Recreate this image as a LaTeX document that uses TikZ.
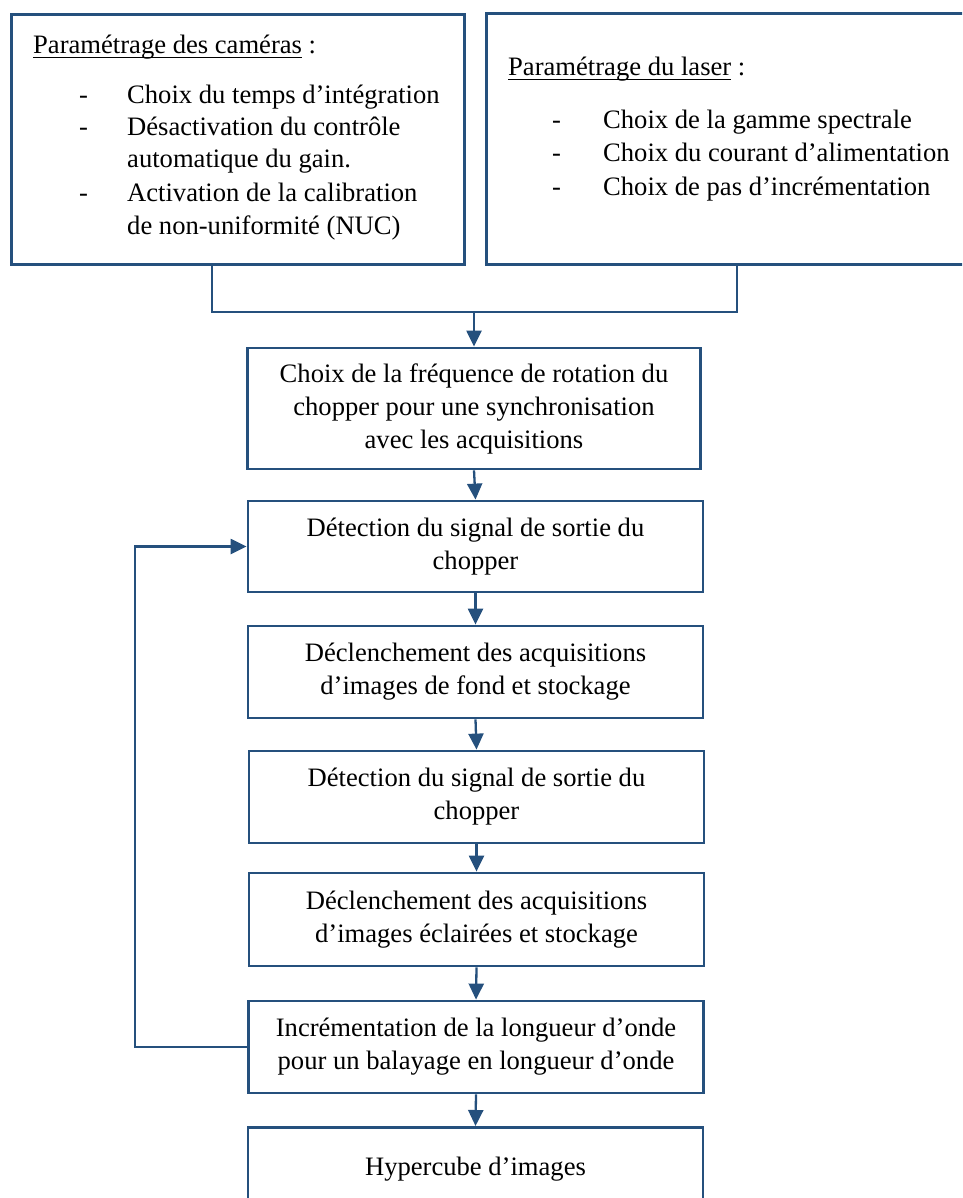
\documentclass[tikz,border=0pt]{standalone}
\usepackage{fontspec}
\setmainfont{Liberation Serif}
\usetikzlibrary{arrows.meta}
\definecolor{boxblue}{RGB}{37,80,125}
\newcommand\myul[1]{\setbox0\hbox{#1}\rlap{\rule[-4.5pt]{\wd0}{1.4pt}}\box0\relax}
\begin{document}
\begin{tikzpicture}[x=1pt,y=-1pt,
  frame/.style={draw=boxblue, line width=2.8pt, inner sep=0pt, anchor=north west},
  box/.style={draw=boxblue, line width=2.8pt, minimum width=455pt, inner sep=0pt, align=center, font=\fontsize{26.6}{33}\selectfont},
  conn/.style={draw=boxblue, line width=2.3pt},
  arr/.style={conn, -{Triangle[length=16pt,width=15pt]}},
  txt/.style={inner sep=0pt, font=\fontsize{26.6}{33}\selectfont, anchor=base west}
]
\useasboundingbox (0,0) rectangle (962,1198);
\clip (0,0) rectangle (962,1198);

% top boxes
\node[frame, minimum width=453pt, minimum height=250pt] (cam) at (10,13) {};
\node[frame, minimum width=520pt, minimum height=251pt] (laser) at (485,12) {};

% camera text
\node[txt] (ct) at (33,54) {\myul{Paramétrage des caméras} :};
\node[txt] (c1) at (79,104) {\makebox[48pt][l]{-}Choix du temps d’intégration};
\node[txt] (c2) at (79,136) {\makebox[48pt][l]{-}Désactivation du contrôle};
\node[txt] (c3) at (127,168) {automatique du gain.};
\node[txt] (c4) at (79,202) {\makebox[48pt][l]{-}Activation de la calibration};
\node[txt] (c5) at (127,234) {de non-uniformité (NUC)};

% laser text
\node[txt] (lt) at (508,76) {\myul{Paramétrage du laser} :};
\node[txt] (l1) at (552,129) {\makebox[51pt][l]{-}Choix de la gamme spectrale};
\node[txt] (l2) at (552,162) {\makebox[51pt][l]{-}Choix du courant d’alimentation};
\node[txt] (l3) at (552,196) {\makebox[51pt][l]{-}Choix de pas d’incrémentation};

% flow boxes
\node[box, minimum width=453pt, minimum height=121pt] (A) at (474,408.5)
  {Choix de la fréquence de rotation du\\chopper pour une synchronisation\\avec les acquisitions};
\node[box, minimum height=91pt] (B) at (475.5,546.5)
  {Détection du signal de sortie du\\chopper};
\node[box, minimum height=92pt] (C) at (475.5,672)
  {Déclenchement des acquisitions\\d’images de fond et stockage};
\node[box, minimum height=92pt] (D) at (476.5,797)
  {Détection du signal de sortie du\\chopper};
\node[box, minimum height=93pt] (E) at (476.5,919.5)
  {Déclenchement des acquisitions\\d’images éclairées et stockage};
\node[box, minimum height=92pt] (F) at (476,1047)
  {Incrémentation de la longueur d’onde\\pour un balayage en longueur d’onde};
\node[box, minimum height=84pt, anchor=north] (G) at (475.5,1126)
  {Hypercube d’images};

% junction
\coordinate (jl) at (212,312);
\coordinate (jr) at (737,312);
\coordinate (j) at (474,312);
\draw[conn] (cam.south -| jl) -- (jl) -- (jr) -- (laser.south -| jr);
\draw[arr] (j) -- (A.north);

% vertical chain
\draw[arr] (A.south) -- (B.north);
\draw[arr] (B.south) -- (C.north);
\draw[arr] (C.south) -- (D.north);
\draw[arr] (D.south) -- (E.north);
\draw[arr] (E.south) -- (F.north);
\draw[arr] (F.south) -- (G.north);

% feedback loop
\coordinate (fb) at (135,1047);
\draw[arr] (F.west) -- (fb) |- (B.west);
\end{tikzpicture}
\end{document}
